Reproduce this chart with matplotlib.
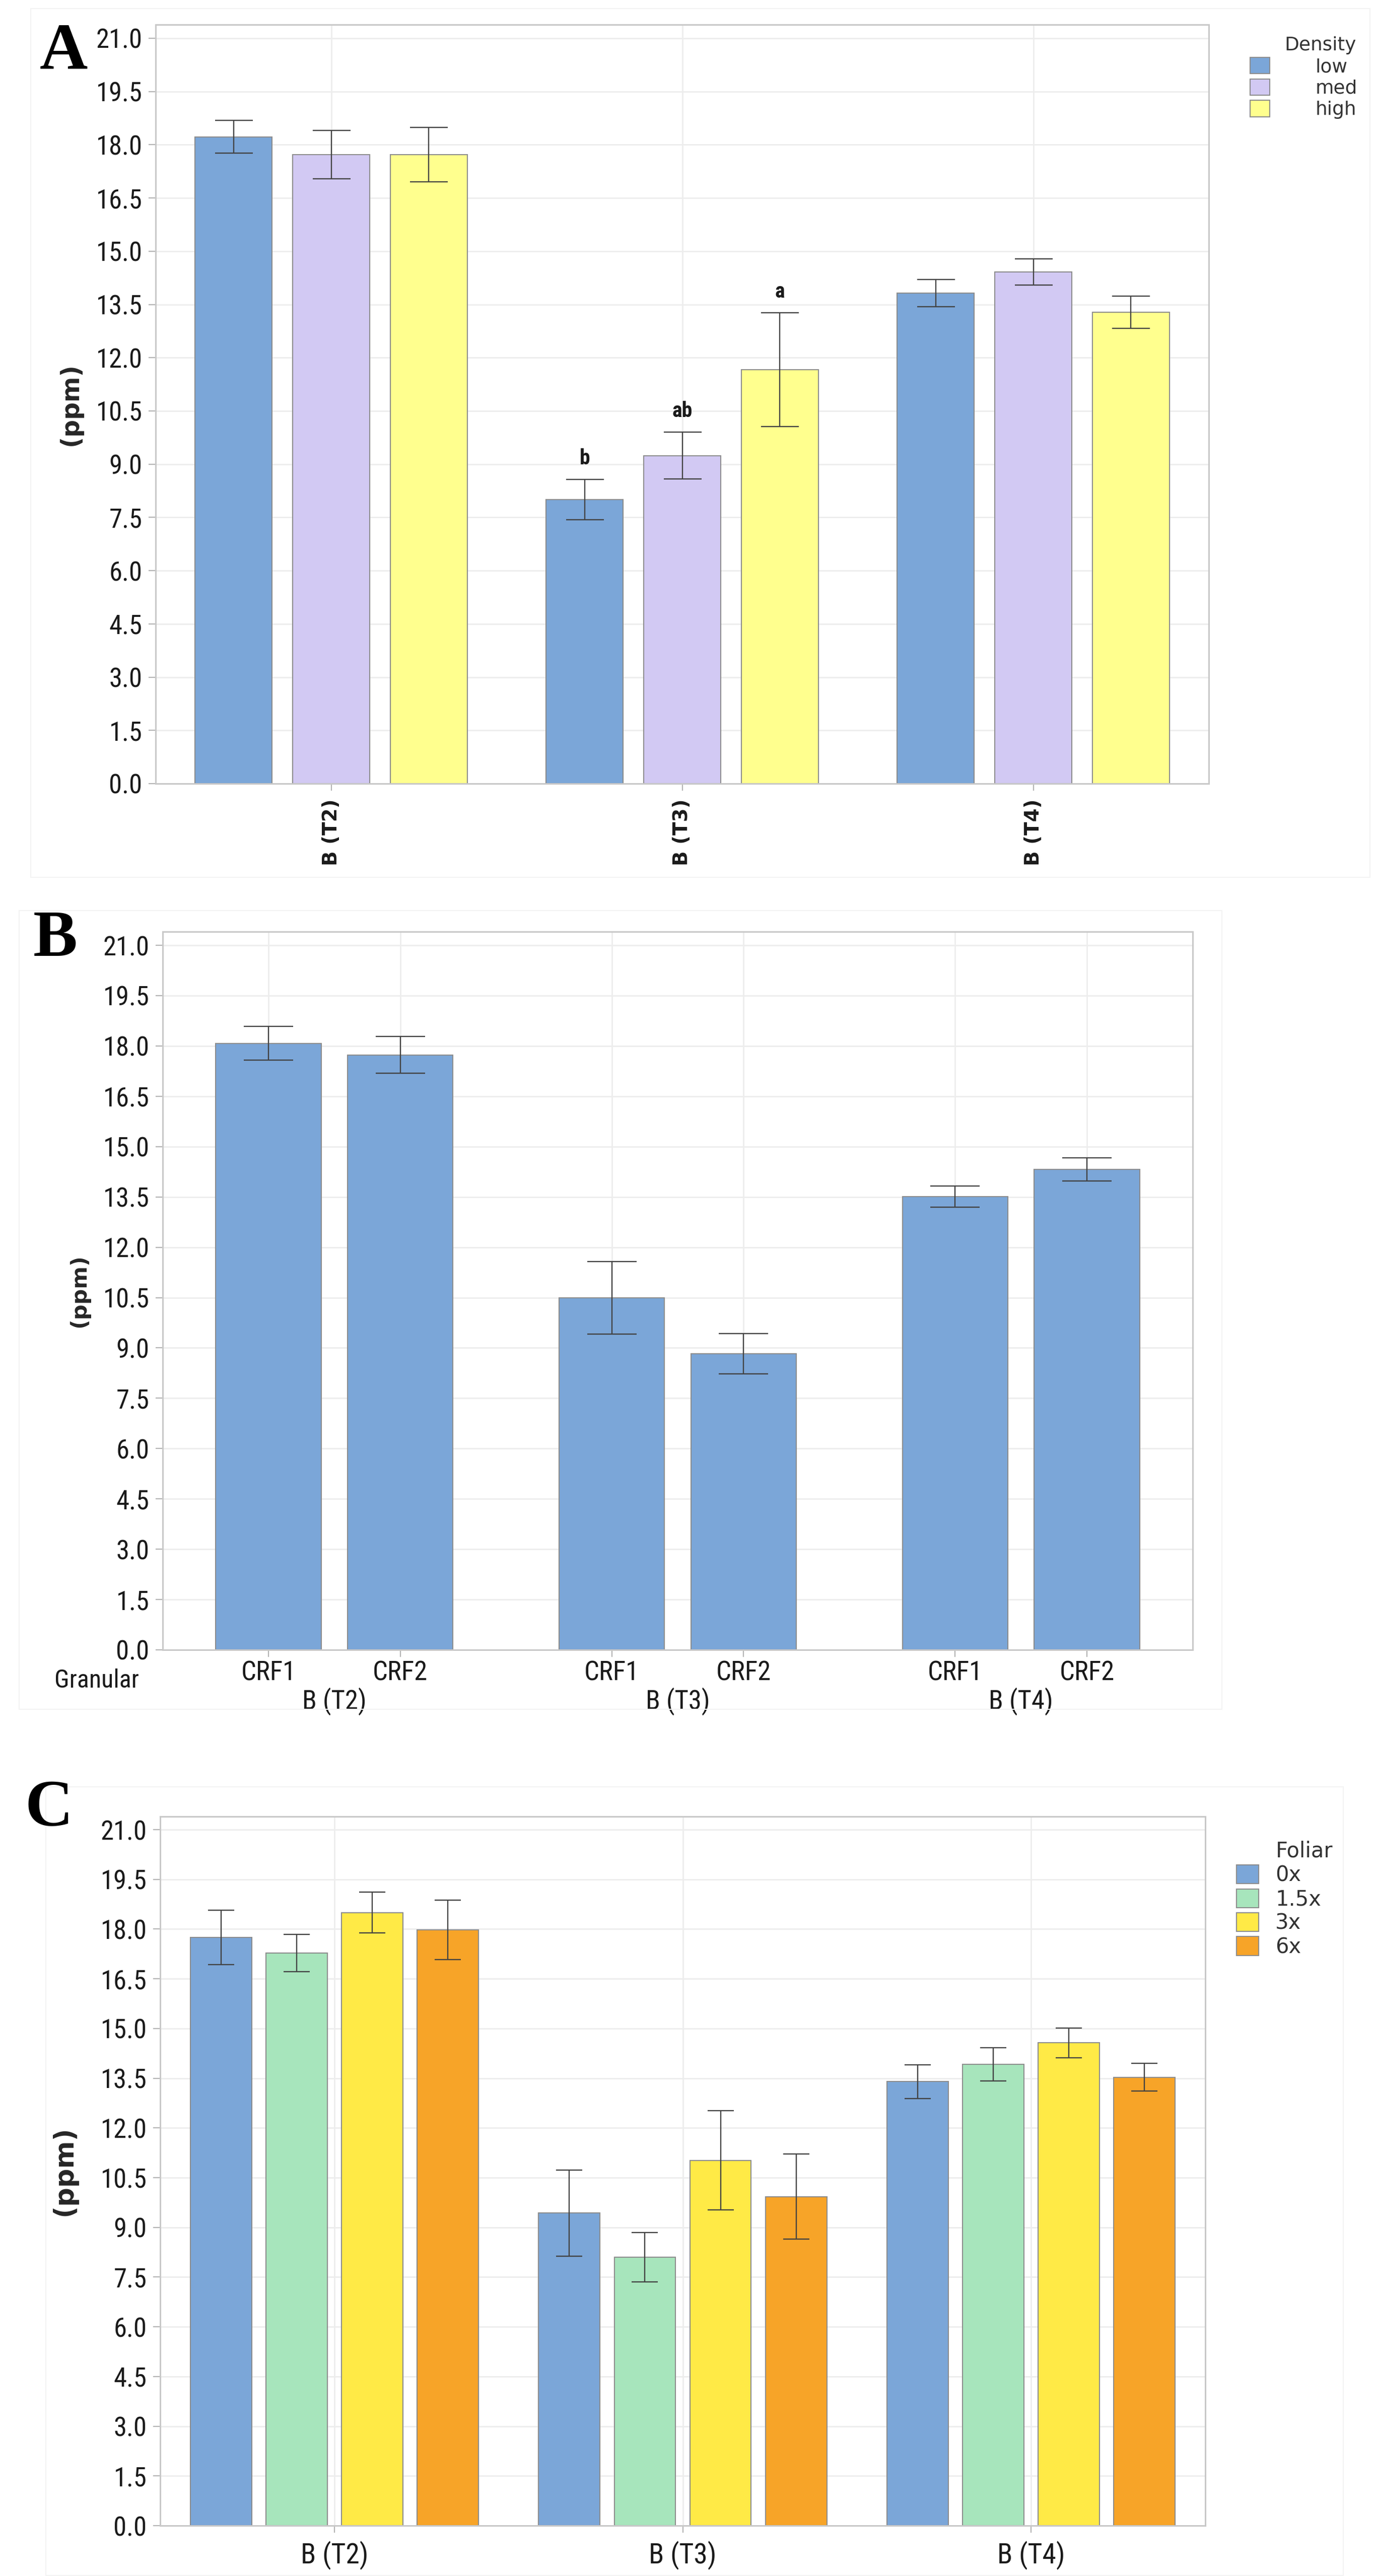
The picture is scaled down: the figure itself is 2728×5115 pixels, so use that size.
import numpy as np
import matplotlib.pyplot as plt
from matplotlib import font_manager as fm
from matplotlib.patches import Patch, Rectangle
from matplotlib.transforms import blended_transform_factory

W, H, DPI = 2728, 5115, 100

# pick a narrow sans for the tick texts, the reference uses a condensed face
_fonts = fm.fontManager.ttflist
_names = {f.name for f in _fonts}
STRETCH = 'normal'
if 'Liberation Sans Narrow' in _names:
    NARROW = ['Liberation Sans Narrow', 'DejaVu Sans']
elif 'Roboto Condensed' in _names:
    NARROW = ['Roboto Condensed', 'DejaVu Sans']
elif any(f.name == 'DejaVu Sans' and 'condensed' in str(f.stretch) for f in _fonts):
    NARROW = ['DejaVu Sans']
    STRETCH = 'condensed'
else:
    NARROW = ['Roboto', 'DejaVu Sans']
plt.rcParams['font.family'] = NARROW
plt.rcParams['font.stretch'] = STRETCH

groups = ['B (T2)', 'B (T3)', 'B (T4)']
y_ticks = np.arange(0, 21.01, 1.5)

# panel A - density
density_levels = ['low', 'med', 'high']
density_colors = ['#7BA6D8', '#D2C9F3', '#FFFF8E']
density_means = [[18.22, 8.00, 13.82],
                 [17.72, 9.24, 14.42],
                 [17.72, 11.66, 13.28]]
density_errs = [[0.46, 0.57, 0.38],
                [0.68, 0.66, 0.37],
                [0.77, 1.60, 0.46]]
t3_letters = ['b', 'ab', 'a']

# panel B - granular
granular_levels = ['CRF1', 'CRF2']
granular_means = [[18.08, 10.49, 13.51],
                  [17.73, 8.83, 14.32]]
granular_errs = [[0.50, 1.08, 0.32],
                 [0.55, 0.60, 0.35]]

# panel C - foliar
foliar_levels = ['0x', '1.5x', '3x', '6x']
foliar_colors = ['#7BA6D8', '#A7E5BC', '#FFEA46', '#F7A428']
foliar_means = [[17.75, 9.43, 13.40],
                [17.28, 8.10, 13.92],
                [18.50, 11.02, 14.57],
                [17.98, 9.93, 13.53]]
foliar_errs = [[0.82, 1.30, 0.51],
               [0.56, 0.74, 0.50],
               [0.62, 1.50, 0.45],
               [0.90, 1.29, 0.42]]

EDGE = '#8C8C8C'
ERR = '#424242'


def px_axes(fig, left, top, right, bottom):
    return fig.add_axes([left / W, 1 - bottom / H, (right - left) / W, (bottom - top) / H])


def style(ax, ytop):
    ax.set_xlim(-0.5, 2.5)
    ax.set_ylim(0, ytop)
    ax.set_yticks(y_ticks)
    ax.set_yticklabels([f'{v:.1f}' for v in y_ticks])
    ax.grid(True, color='#EDEDED', linewidth=2)
    ax.set_axisbelow(True)
    for s in ax.spines.values():
        s.set_color('#C8C8C8')
        s.set_linewidth(2.2)
    ax.tick_params(axis='both', direction='out', length=10, width=1.6,
                   color='#B4B4B4', pad=9, labelsize=38, labelcolor='#1A1A1A')


def bars(ax, means, errs, colors, width, step, capsize):
    x = np.arange(len(groups))
    n = len(means)
    for i in range(n):
        off = (i - (n - 1) / 2) * step
        ax.bar(x + off, means[i], width, yerr=errs[i], color=colors[i],
               edgecolor=EDGE, linewidth=1.5, zorder=2,
               error_kw=dict(ecolor=ERR, elinewidth=1.7, capsize=capsize,
                             capthick=1.7, zorder=3))


def ylabel(ax, xfrac, size):
    ax.text(xfrac, 0.5, '(ppm)', transform=ax.transAxes, rotation=90,
            ha='center', va='center', fontsize=size, fontweight='bold',
            family='DejaVu Sans', fontstretch='normal', color='#262626')


def legend(fig, ax, levels, colors, x, ytop, size, hl, hh, pad, spacing):
    handles = [Patch(facecolor=c, edgecolor=EDGE, linewidth=1.5) for c in colors]
    ax.legend(handles, levels, loc='upper left', bbox_to_anchor=(x / W, 1 - ytop / H),
              bbox_transform=fig.transFigure, frameon=False, borderpad=0,
              borderaxespad=0, handlelength=hl, handleheight=hh,
              handletextpad=pad, labelspacing=spacing,
              prop=dict(family='DejaVu Sans', stretch='normal', size=size),
              labelcolor='#333333')


fig = plt.figure(figsize=(W / DPI, H / DPI), dpi=DPI)

# faint panel frames
for (l, t, r, b) in [(61, 17, 2720, 1742), (38, 1808, 2426, 3394), (91, 3548, 2667, 5114)]:
    fig.add_artist(Rectangle((l / W, 1 - b / H), (r - l) / W, (b - t) / H,
                             transform=fig.transFigure, fill=False,
                             edgecolor='#F3F3F3', linewidth=1.5))

# ---- A ----
axA = px_axes(fig, 309, 49, 2400, 1556)
style(axA, 21 + 27 / 70.5)
bars(axA, density_means, density_errs, density_colors, 0.22, 0.278, 27)
axA.set_xticks(np.arange(len(groups)))
axA.set_xticklabels(groups, rotation=90, fontsize=28, fontweight='bold',
                    family='DejaVu Sans', fontstretch='normal')
axA.tick_params(axis='x', pad=12)
for i, lt in enumerate(t3_letters):
    top = density_means[i][1] + density_errs[i][1]
    axA.text(1 + (i - 1) * 0.278, top + 0.3, lt, ha='center', va='bottom',
             fontsize=30, fontweight='bold', color='#1A1A1A')
ylabel(axA, -0.081, 35)
legend(fig, axA, density_levels, density_colors, 2482, 114, 27, 1.05, 0.95, 2.4, 0.15)
fig.text(2550 / W, 1 - 72 / H, 'Density', ha='left', va='top', fontsize=27,
         family='DejaVu Sans', fontstretch='normal', color='#333333')
fig.text(79 / W, 1 - 136 / H, 'A', ha='left', va='baseline', fontsize=95,
         fontweight='bold', family='Liberation Serif', fontstretch='normal')

# ---- B ----
axB = px_axes(fig, 323, 1850, 2368, 3276)
style(axB, 21 + 27 / 66.6)
bars(axB, granular_means, granular_errs, ['#7BA6D8', '#7BA6D8'], 0.307, 0.384, 35)
xb = np.concatenate([np.arange(len(groups)) + (i - 0.5) * 0.384 for i in range(2)])
xl = [granular_levels[i] for i in range(2) for _ in groups]
order = np.argsort(xb)
axB.set_xticks(xb[order])
axB.set_xticklabels([xl[k] for k in order], fontsize=38)
axB.tick_params(axis='x', pad=5)
tr = blended_transform_factory(axB.transData, axB.transAxes)
for i, g in enumerate(groups):
    axB.text(i, -0.072, g, transform=tr, ha='center', va='center', fontsize=38,
             color='#1A1A1A')
axB.text(-0.023, -0.043, 'Granular', transform=axB.transAxes, ha='right',
         va='center', fontsize=36, color='#1A1A1A')
ylabel(axB, -0.081, 31)
fig.text(66 / W, 1 - 1898 / H, 'B', ha='left', va='baseline', fontsize=95,
         fontweight='bold', family='Liberation Serif', fontstretch='normal')

# ---- C ----
axC = px_axes(fig, 318, 3607, 2393, 5015)
style(axC, 21 + 26 / 65.8)
bars(axC, foliar_means, foliar_errs, foliar_colors, 0.176, 0.217, 19)
axC.set_xticks(np.arange(len(groups)))
axC.set_xticklabels(groups, fontsize=40)
axC.tick_params(axis='x', pad=12)
ylabel(axC, -0.092, 38)
legend(fig, axC, foliar_levels, foliar_colors, 2455, 3703, 30, 1.05, 1.0, 0.8, 0.13)
fig.text(2533 / W, 1 - 3655 / H, 'Foliar', ha='left', va='top', fontsize=30,
         family='DejaVu Sans', fontstretch='normal', color='#333333')
fig.text(49 / W, 1 - 3625 / H, 'C', ha='left', va='baseline', fontsize=95,
         fontweight='bold', family='Liberation Serif', fontstretch='normal')

fig.savefig('out.png', dpi=DPI, facecolor='white')
